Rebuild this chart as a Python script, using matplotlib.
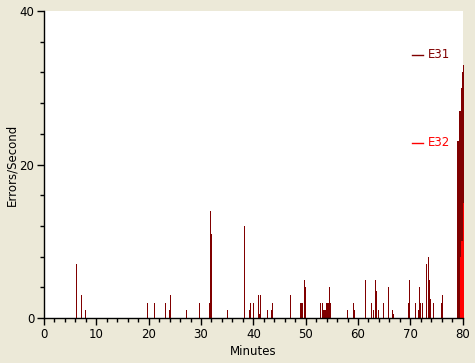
import matplotlib
matplotlib.use("Agg")
import matplotlib.pyplot as plt
from matplotlib.lines import Line2D
from matplotlib.ticker import MultipleLocator

BG = "#ECE9D8"
E31_COLOR = "#800000"
E32_COLOR = "#FF0000"

# E31 error bursts: minute of run and errors/second
e31_minutes = [6.2, 7.15, 7.9, 19.8, 21.1, 23.2, 24.0, 24.2, 27.2, 29.7,
               31.6, 31.8, 32.0, 35.1, 38.3, 39.3, 39.5, 40.1, 41.0, 41.2,
               41.4, 42.7, 43.5, 43.7, 47.1, 49.1, 49.3, 49.8, 50.0, 52.9,
               53.3, 53.5, 53.7, 53.9, 54.1, 54.4, 54.6, 54.8, 57.9, 59.2,
               59.4, 61.5, 62.6, 63.0, 63.4, 63.6, 64.0, 64.9, 65.9, 66.5,
               66.7, 69.7, 69.9, 70.9, 71.6, 71.8, 72.0, 72.4, 73.0, 73.4,
               73.6, 73.8, 74.5, 76.0, 76.2, 79.1, 79.3, 79.5, 79.7, 79.9,
               80.1]
e31_values = [7, 3, 1, 2, 2, 2, 1, 3, 1, 2,
              2, 14, 11, 1, 12, 1, 2, 2, 3, 0.5,
              3, 1, 1, 2, 3, 2, 2, 5, 4, 2,
              2, 1, 1, 2, 2, 2, 4, 2, 1, 2,
              1, 5, 2, 1, 5, 3.5, 1, 2, 4, 1,
              0.5, 2, 5, 2, 1, 4, 2, 2, 7, 8,
              5, 2.5, 2, 2, 3, 23, 27, 27, 30, 32,
              33]

# E32 only shows up at the very end
e32_minutes = [79.65, 79.9, 80.15]
e32_values = [8, 10, 15]

fig = plt.figure(figsize=(4.75, 3.63), dpi=100, facecolor=BG)
ax = fig.add_axes([44 / 475, 45 / 363, 418.7 / 475, 307 / 363])
ax.set_facecolor("white")

ax.bar(e31_minutes, e31_values, width=0.2, color=E31_COLOR, linewidth=0,
       antialiased=False, clip_on=False)
ax.bar(e32_minutes, e32_values, width=0.26, color=E32_COLOR, linewidth=0,
       antialiased=False, clip_on=False)

ax.set_xlim(0, 80)
ax.set_ylim(0, 40)
ax.xaxis.set_major_locator(MultipleLocator(10))
ax.xaxis.set_minor_locator(MultipleLocator(2))
ax.yaxis.set_major_locator(MultipleLocator(20))
ax.yaxis.set_minor_locator(MultipleLocator(4))

for s in ("top", "right"):
    ax.spines[s].set_visible(False)
for s in ("left", "bottom"):
    ax.spines[s].set_linewidth(1)
    ax.spines[s].set_color("black")

ax.tick_params(which="major", length=5, width=1, direction="out",
               labelsize=8.5, pad=2)
ax.tick_params(which="minor", length=3, width=1, direction="out")

ax.set_xlabel("Minutes", fontsize=8.5, labelpad=3)
ax.set_ylabel("Errors/Second", fontsize=8.5, labelpad=1)

# legend entries sit far apart on the right side
for label, color, ypx in (("E31", E31_COLOR, 55), ("E32", E32_COLOR, 143)):
    yf = 1 - ypx / 363
    fig.add_artist(Line2D([411.5 / 475, 423 / 475], [yf, yf], color=color,
                          linewidth=1))
    fig.text(428 / 475, yf, label, color=color, fontsize=8.5, va="center",
             ha="left")

fig.savefig("out.png", dpi=100, facecolor=BG)
